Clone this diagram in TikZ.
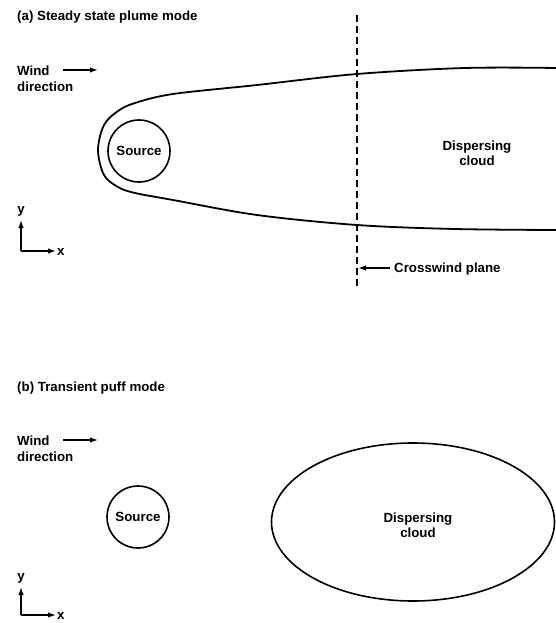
\documentclass[tikz,border=0pt]{standalone}
\usepackage{fontspec}
\setmainfont{Liberation Sans}
\usetikzlibrary{arrows.meta,shapes.geometric}
\begin{document}
\begin{tikzpicture}[x=1pt,y=-1pt,
  lbl/.style={font=\fontsize{13.3}{15}\selectfont\bfseries, inner sep=0pt, align=left},
  ctr/.style={font=\fontsize{13.3}{15.5}\selectfont\bfseries, inner sep=0pt, align=center},
  arr/.style={line width=1.4pt, -{Latex[length=8pt,width=5.5pt]}},
  thick line/.style={line width=1.8pt},
  circ/.style={circle, draw, line width=1.6pt, minimum size=62pt, inner sep=0pt, font=\fontsize{13.3}{15}\selectfont\bfseries}]
\useasboundingbox (0,0) rectangle (556,623);
% ---------- (a) ----------
\node[lbl, anchor=west] (ta) at (17,17) {(a) Steady state plume mode};
\node[lbl, anchor=west] (wa1) at (17,71) {Wind};
\node[lbl, anchor=west] (wa2) at (17,87) {direction};
\coordinate (wa0) at (63,70);
\coordinate (wa3) at (98,70);
\draw[arr] (wa0) -- (wa3);
\node[circ] (srca) at (139,151) {Source};
\draw[thick line] plot[smooth, tension=0.55] coordinates {(557,68) (465,68) (357,74) (257,85) (173,94) (135,103) (118,111) (104,125) (98,150) (104,175) (118,187) (135,193) (173,200) (257,215) (357,225) (455,229) (557,230)};
\node[ctr] (dca) at (477,153) {Dispersing\\cloud};
\coordinate (dt) at (357,15);
\coordinate (db) at (357,286);
\draw[line width=1.3pt, dash pattern=on 7pt off 4pt] (dt) -- (db);
\node[lbl, anchor=west] (cw) at (394,269) {Crosswind plane};
\coordinate (cw0) at (390,268);
\coordinate (cw1) at (358,268);
\draw[arr] (cw0) -- (cw1);
\node[lbl] (ya) at (21,211) {y};
\coordinate (oa) at (21,251);
\coordinate (yat) at (21,220);
\coordinate (xat) at (56,251);
\draw[arr] (oa) -- (yat);
\draw[arr] (oa) -- (xat);
\node[lbl, anchor=west] (xa) at (57,252) {x};
% ---------- (b) ----------
\node[lbl, anchor=west] (tb) at (17,388) {(b) Transient puff mode};
\node[lbl, anchor=west] (wb1) at (17,441) {Wind};
\node[lbl, anchor=west] (wb2) at (17,457) {direction};
\coordinate (wb0) at (63,440);
\coordinate (wb3) at (98,440);
\draw[arr] (wb0) -- (wb3);
\node[circ] (srcb) at (138,517) {Source};
\node[ellipse, draw, line width=1.6pt, minimum width=283pt, minimum height=158pt, inner sep=0pt] (cldb) at (413,522) {};
\node[ctr] (dcb) at (418,525) {Dispersing\\cloud};
\node[lbl] (yb) at (21,578) {y};
\coordinate (ob) at (21,615);
\coordinate (ybt) at (21,587);
\coordinate (xbt) at (56,615);
\draw[arr] (ob) -- (ybt);
\draw[arr] (ob) -- (xbt);
\node[lbl, anchor=west] (xb) at (57,616) {x};
\end{tikzpicture}
\end{document}
